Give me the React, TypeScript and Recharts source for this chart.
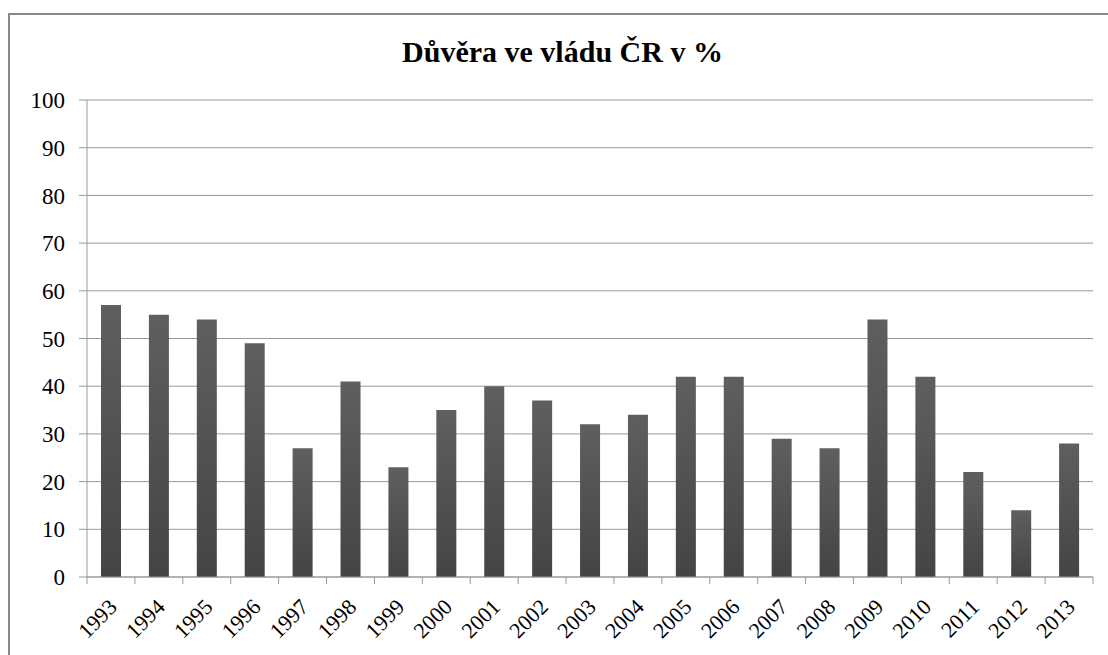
import { Bar, BarChart, CartesianGrid, XAxis, YAxis } from "recharts";

const years = [
  "1993", "1994", "1995", "1996", "1997", "1998", "1999", "2000", "2001", "2002", "2003",
  "2004", "2005", "2006", "2007", "2008", "2009", "2010", "2011", "2012", "2013",
];
const trust = [57, 55, 54, 49, 27, 41, 23, 35, 40, 37, 32, 34, 42, 42, 29, 27, 54, 42, 22, 14, 28];
const yTicks = [0, 10, 20, 30, 40, 50, 60, 70, 80, 90, 100];

const data = years.map((year, i) => ({ year, value: trust[i] }));

const W = 1108;
const H = 655;
const LEFT = 87;
const RIGHT = 15;
const FONT = "Liberation Serif, DejaVu Serif, Noto Serif, serif";
const half = (W - LEFT - RIGHT) / years.length / 2;

function YearTick(props: any) {
  const { x, y, index } = props;
  const last = index === years.length - 1;
  const tx = x - 4;
  const ty = y + 20;
  return (
    <g>
      <line x1={x - half} y1={y} x2={x - half} y2={y + 7} stroke="#999" />
      {last && <line x1={x + half} y1={y} x2={x + half} y2={y + 7} stroke="#999" />}
      <text
        x={tx}
        y={ty}
        transform={`rotate(-45, ${tx}, ${ty})`}
        textAnchor="end"
        dominantBaseline="hanging"
        fontFamily={FONT}
        fontSize={22}
        fill="#000"
      >
        {props.payload.value}
      </text>
    </g>
  );
}

export default function App() {
  return (
    <div style={{ position: "absolute", left: 0, top: 0, width: W, height: H, background: "#fff", overflow: "hidden" }}>
      <div
        style={{
          position: "absolute",
          left: 8,
          top: 13,
          width: W,
          height: H,
          borderTop: "2px solid #888",
          borderLeft: "2px solid #888",
        }}
      />
      <div
        style={{
          position: "absolute",
          top: 35,
          left: 0,
          width: 1125,
          textAlign: "center",
          fontFamily: FONT,
          fontWeight: "bold",
          fontSize: 30,
          color: "#000",
        }}
      >
        Důvěra ve vládu ČR v %
      </div>
      <div style={{ position: "absolute", left: 0, top: 0 }}>
        <BarChart width={W} height={H} data={data} margin={{ top: 100, right: RIGHT, bottom: 0, left: 0 }} barSize={20}>
          <defs>
            <linearGradient id="barFill" x1="0" y1="0" x2="0" y2="1">
              <stop offset="0%" stopColor="#5f5f5f" />
              <stop offset="100%" stopColor="#444" />
            </linearGradient>
          </defs>
          <CartesianGrid vertical={false} stroke="#999" />
          <XAxis
            dataKey="year"
            height={78}
            axisLine={{ stroke: "#999" }}
            tickLine={false}
            tickSize={0}
            tickMargin={0}
            interval={0}
            tick={<YearTick />}
          />
          <YAxis
            width={LEFT}
            domain={[0, 100]}
            ticks={yTicks}
            interval={0}
            axisLine={{ stroke: "#999" }}
            tickLine={{ stroke: "#999" }}
            tickSize={8}
            tickMargin={14}
            tick={{ fontFamily: FONT, fontSize: 23, fill: "#000" }}
          />
          <Bar dataKey="value" fill="url(#barFill)" isAnimationActive={false} />
        </BarChart>
      </div>
    </div>
  );
}
